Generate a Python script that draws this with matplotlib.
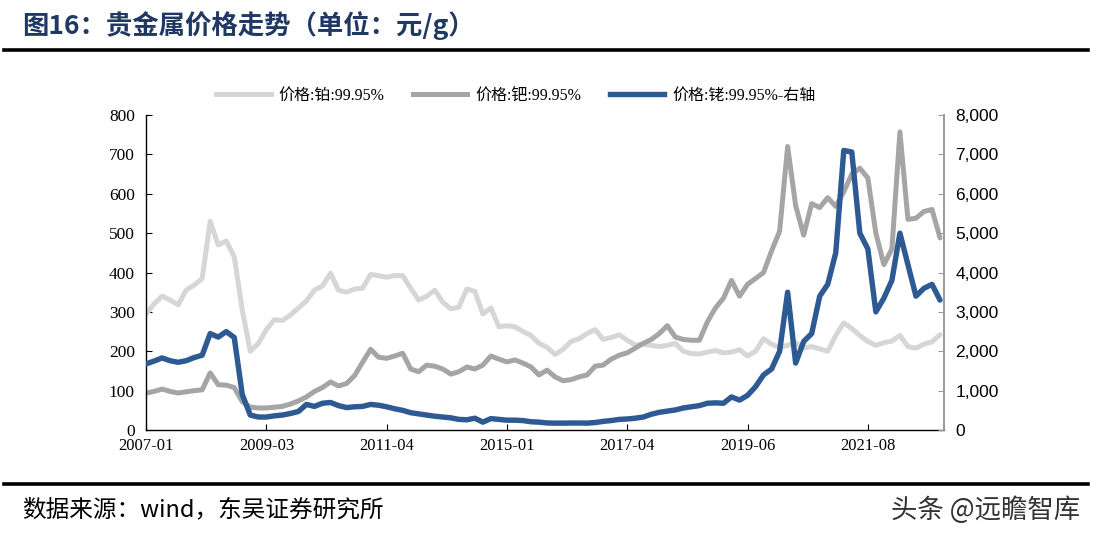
import matplotlib
matplotlib.use("Agg")
import matplotlib.pyplot as plt
from matplotlib.lines import Line2D

# ---------------- data ----------------
tick_labels = ["2007-01", "2009-03", "2011-04", "2015-01", "2017-04", "2019-06", "2021-08"]
tick_every = 15  # samples between labelled ticks

platinum = [295, 320, 340, 330, 318, 355, 368, 385, 530, 470,
            480, 440, 305, 200, 220, 255, 280, 278, 292, 310,
            328, 355, 366, 398, 355, 350, 358, 360, 395, 392,
            388, 392, 392, 360, 330, 340, 355, 325, 308, 312,
            358, 352, 295, 310, 262, 265, 262, 250, 240, 220,
            210, 192, 205, 225, 232, 245, 255, 230, 235, 242,
            228, 216, 218, 215, 212, 215, 220, 200, 194, 193,
            198, 202, 196, 198, 204, 188, 200, 232, 218, 210,
            215, 222, 208, 212, 206, 200, 240, 272, 258, 240,
            225, 215, 222, 226, 240, 212, 208, 218, 224, 242]

palladium = [94, 98, 104, 98, 94, 97, 100, 102, 145, 115,
             114, 108, 72, 58, 56, 56, 58, 60, 66, 74,
             84, 98, 108, 122, 112, 118, 138, 172, 205, 185,
             182, 188, 195, 155, 148, 165, 162, 155, 142, 148,
             160, 155, 165, 188, 180, 173, 178, 170, 160, 140,
             152, 135, 125, 128, 135, 140, 162, 165, 180, 190,
             196, 208, 220, 230, 245, 265, 236, 230, 228, 228,
             275, 310, 335, 380, 340, 370, 385, 400, 455, 505,
             720, 570, 495, 575, 565, 590, 568, 605, 650, 665,
             640, 500, 420, 460, 757, 535, 538, 555, 560, 488]

rhodium = [1680, 1750, 1830, 1760, 1720, 1760, 1840, 1900, 2450, 2360,
           2500, 2350, 900, 380, 330, 330, 360, 380, 420, 470,
           650, 600, 680, 700, 620, 570, 590, 600, 650, 630,
           590, 540, 500, 440, 410, 380, 350, 330, 310, 270,
           260, 300, 200, 290, 270, 250, 250, 240, 210, 200,
           180, 175, 175, 178, 178, 175, 190, 220, 240, 270,
           280, 300, 330, 400, 450, 480, 510, 560, 590, 620,
           680, 690, 680, 840, 760, 880, 1100, 1400, 1550, 2000,
           3500, 1700, 2250, 2450, 3400, 3700, 4500, 7100, 7060, 5000,
           4600, 3000, 3350, 3800, 5000, 4200, 3400, 3600, 3700, 3300]

legend_labels = ["价格:铂:99.95%", "价格:钯:99.95%", "价格:铑:99.95%-右轴"]
c_pt, c_pd, c_rh = "#D6D6D6", "#A5A5A5", "#2E5A94"

# ---------------- figure ----------------
serif = ["Liberation Serif", "Noto Sans CJK SC"]
cjk = ["Noto Sans CJK SC", "DejaVu Sans"]

fig = plt.figure(figsize=(10.93, 5.38), dpi=100)
ax = fig.add_axes([0.1336, 0.2007, 0.7301, 0.5855])
ax2 = ax.twinx()

x = list(range(len(platinum)))
ax.plot(x, platinum, color=c_pt, lw=3.6, solid_capstyle="round", solid_joinstyle="round")
ax.plot(x, palladium, color=c_pd, lw=3.6, solid_capstyle="round", solid_joinstyle="round")
ax2.plot(x, rhodium, color=c_rh, lw=3.9, solid_capstyle="round", solid_joinstyle="round")

ax.set_xlim(0, len(platinum) - 0.5)
ax.set_ylim(0, 800)
ax2.set_ylim(0, 8000)
ax.set_yticks(range(0, 801, 100))
ax2.set_yticks(range(0, 8001, 1000))
ax2.set_yticklabels([f"{v:,}" for v in range(0, 8001, 1000)])
ax.set_xticks([i * tick_every for i in range(len(tick_labels))])
ax.set_xticklabels(tick_labels)

for a in (ax, ax2):
    a.spines["top"].set_visible(False)
ax.spines["right"].set_visible(False)
ax2.spines["left"].set_visible(False)
ax2.spines["bottom"].set_visible(False)
ax2.spines["right"].set_color("#999999")
ax2.spines["right"].set_linewidth(1.4)
ax.spines["left"].set_linewidth(1.0)
ax.spines["bottom"].set_linewidth(1.0)

ax.tick_params(axis="y", direction="in", length=4, labelsize=12.5, pad=8)
ax.tick_params(axis="x", direction="in", length=4, labelsize=12, pad=6)
ax2.tick_params(axis="y", direction="in", length=4, labelsize=12.5, color="#999999", pad=8)
for lab in ax.get_yticklabels() + ax.get_xticklabels():
    lab.set_fontfamily(serif)
for lab in ax2.get_yticklabels():
    lab.set_fontfamily("Liberation Sans")

handles = [Line2D([], [], color=c_pt, lw=3.6),
           Line2D([], [], color=c_pd, lw=3.6),
           Line2D([], [], color=c_rh, lw=3.9)]
fig.legend(handles, legend_labels, loc="center", bbox_to_anchor=(0.472, 0.822), ncol=3,
           frameon=False, prop={"family": serif, "size": 11.5}, handlelength=3.4,
           columnspacing=1.8, handletextpad=0.5)

# title, rules, footer
fig.text(0.02, 0.953, "图16：贵金属价格走势（单位：元/g）", fontsize=19, fontweight="bold",
         color="#1F3864", family=cjk, va="center", ha="left")
fig.add_artist(Line2D([0.004, 0.995], [0.907, 0.907], color="black", lw=2.6))
fig.add_artist(Line2D([0.004, 0.995], [0.101, 0.101], color="black", lw=2.6))
fig.text(0.02, 0.052, "数据来源：wind，东吴证券研究所", fontsize=17, family=cjk,
         color="black", va="center", ha="left")
fig.text(0.988, 0.052, "头条 @远瞻智库", fontsize=19, family=cjk,
         color="#333333", va="center", ha="right")

fig.savefig("out.png", dpi=100)
